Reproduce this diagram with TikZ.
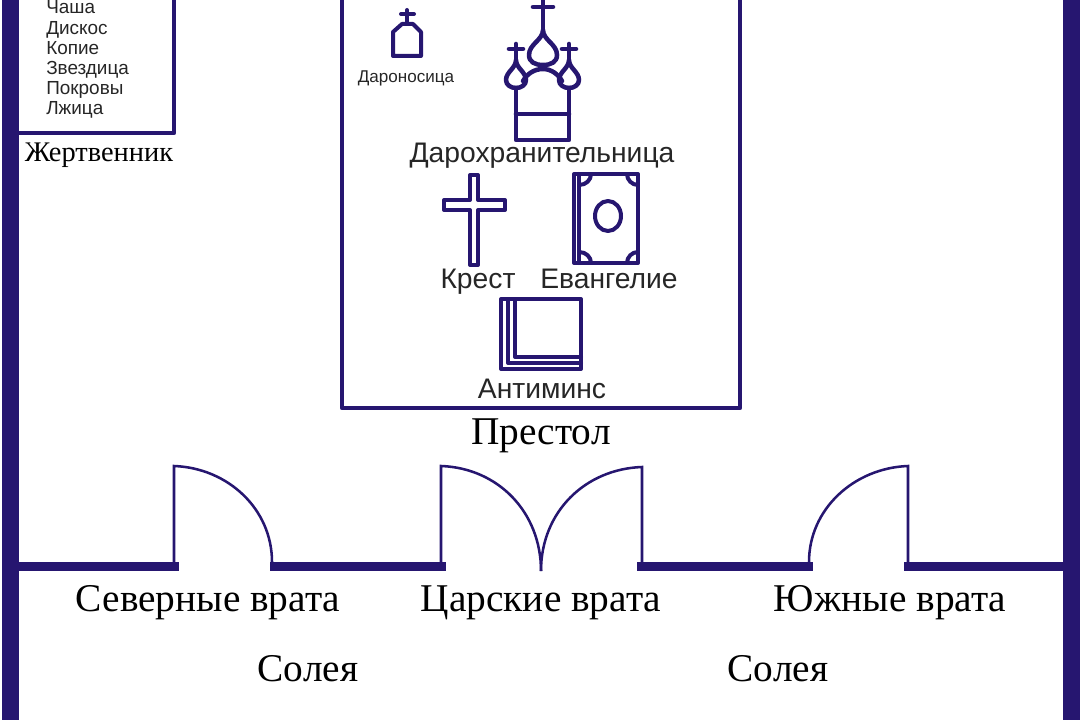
\documentclass[tikz,border=0pt]{standalone}
\usepackage{fontspec}
\setmainfont{Liberation Serif}
\newfontfamily\sansfont{Liberation Sans}
\definecolor{wallblue}{HTML}{261670}
\definecolor{textgray}{HTML}{262626}
\tikzset{
  wall/.style={fill=wallblue},
  outline/.style={draw=wallblue,line width=3.2pt,line join=round,line cap=round},
  icon/.style={draw=wallblue,line width=3.4pt,line join=round,line cap=round},
  thinicon/.style={draw=wallblue,line width=3pt,line join=round,line cap=round},
  door/.style={draw=wallblue,line width=1.9pt},
  serifname/.style={text=black,inner sep=0pt,anchor=base,font=\fontsize{29.5}{32}\selectfont},
  itemname/.style={text=textgray,inner sep=0pt,anchor=base,font=\sansfont\fontsize{21.2}{24}\selectfont},
  smallname/.style={text=textgray,inner sep=0pt,anchor=base,font=\sansfont\fontsize{12.8}{15}\selectfont},
  listname/.style={text=textgray,inner sep=0pt,anchor=base west,font=\sansfont\fontsize{14.2}{16}\selectfont}
}
\begin{document}
\begin{tikzpicture}[x=0.75pt,y=-0.75pt]
  \path[use as bounding box,clip] (0,0) rectangle (1080,720);

  % walls
  \fill[wall] (2,0) rectangle (19,720);
  \fill[wall] (1063,0) rectangle (1080,720);
  \fill[wall] (19,562) rectangle (179,571);
  \fill[wall] (270,562) rectangle (446,571);
  \fill[wall] (637,562) rectangle (813,571);
  \fill[wall] (904,562) rectangle (1063,571);

  % zhertvennik and prestol
  \draw[outline] (19,133) -- (174,133) -- (174,-5);
  \draw[outline] (342,-5) -- (342,408) -- (740,408) -- (740,-5);

  % doors
  \draw[door] (174,562) -- (174,466) .. controls (228,468) and (272,509) .. (272,562);
  \draw[door] (441,562) -- (441,466) .. controls (498,468) and (541,512) .. (541,571);
  \draw[door] (642,562) -- (642,467) .. controls (585,469) and (541,512) .. (541,571);
  \draw[door] (908,562) -- (908,466) .. controls (854,468) and (809,509) .. (809,562);

  % daronositsa
  \draw[thinicon] (407,10) -- (407,24);
  \draw[thinicon] (401,14) -- (414,14);
  \draw[thinicon] (393,56) -- (393,32) -- (402,24) -- (413,24) -- (421,32) -- (421,56) -- cycle;

  % darokhranitelnitsa
  \draw[icon] (543,-3) -- (543,30);
  \draw[icon] (533,7) -- (553,7);
  \draw[icon] (543,30) .. controls (543,40) and (529,44) .. (529,55) .. controls (529,62) and (535,65) .. (543,65) .. controls (551,65) and (557,62) .. (557,55) .. controls (557,44) and (543,40) .. (543,30) -- cycle;
  \foreach \domex in {516,569} {
    \draw[icon] (\domex,44) -- (\domex,60);
    \draw[icon] (\domex-7,49) -- (\domex+7,49);
    \draw[icon] (\domex,60) .. controls (\domex,68) and (\domex-10,72) .. (\domex-10,80) .. controls (\domex-10,85) and (\domex-5,88) .. (\domex,88) .. controls (\domex+5,88) and (\domex+10,85) .. (\domex+10,80) .. controls (\domex+10,72) and (\domex,68) .. (\domex,60) -- cycle;
  }
  \draw[icon] (516,88) -- (516,140) -- (569,140) -- (569,88);
  \draw[icon] (516,114) -- (569,114);
  \draw[icon] (523,81) .. controls (527,74) and (534,69) .. (543,69) .. controls (551,69) and (558,74) .. (562,81);

  % krest
  \draw[thinicon] (470,175) -- (478,175) -- (478,200) -- (505,200) -- (505,210) -- (478,210) -- (478,265) -- (470,265) -- (470,210) -- (444,210) -- (444,200) -- (470,200) -- cycle;

  % evangelie
  \draw[thinicon] (574,174) rectangle (638,263);
  \draw[thinicon] (579,174) -- (579,263);
  \draw[thinicon] (608,216) ellipse (13 and 15);
  \draw[thinicon] (579,185) .. controls (586,185) and (591,180) .. (591,174);
  \draw[thinicon] (627,174) .. controls (627,180) and (632,185) .. (638,185);
  \draw[thinicon] (579,252) .. controls (586,252) and (591,257) .. (591,263);
  \draw[thinicon] (627,263) .. controls (627,257) and (632,252) .. (638,252);

  % antimins
  \draw[thinicon] (501,299) rectangle (581,369);
  \draw[thinicon] (508,299) -- (508,363) -- (581,363);
  \draw[thinicon] (515,299) -- (515,357) -- (581,357);

  % spisok
  \node[listname] (chasha) at (46,14) {Чаша};
  \node[listname] (diskos) at (46,35) {Дискос};
  \node[listname] (kopie) at (46,55) {Копие};
  \node[listname] (zvezdica) at (46,75) {Звездица};
  \node[listname] (pokrovy) at (46,95) {Покровы};
  \node[listname] (lzhica) at (46,115) {Лжица};

  \node[smallname] (daronosica) at (406,83) {Дароносица};
  \node[itemname] (darohran) at (542,163) {Дарохранительница};
  \node[itemname] (krest) at (478,288) {Крест};
  \node[itemname] (evangelie) at (609,288) {Евангелие};
  \node[itemname] (antimins) at (542,398) {Антиминс};

  \node[serifname,font=\fontsize{21.3}{24}\selectfont] (zhertvennik) at (99,162) {Жертвенник};
  \node[serifname] (prestol) at (541,444) {Престол};
  \node[serifname] (severnye) at (208,611) {Северные врата};
  \node[serifname] (carskie) at (541,611) {Царские врата};
  \node[serifname] (yuzhnye) at (890,611) {Южные врата};
  \node[serifname] (soleya1) at (308,681) {Солея};
  \node[serifname] (soleya2) at (778,681) {Солея};
\end{tikzpicture}
\end{document}
